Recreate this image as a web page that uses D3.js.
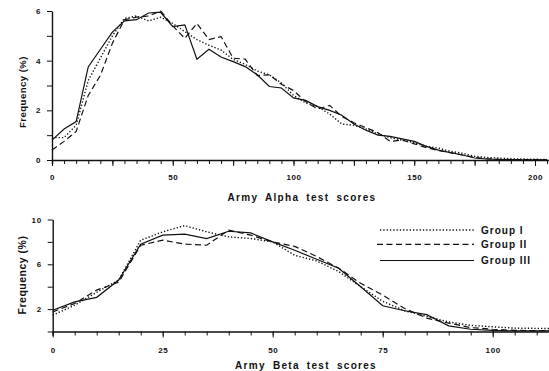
<!DOCTYPE html>
<html>
<head>
<meta charset="utf-8">
<script src="https://cdnjs.cloudflare.com/ajax/libs/d3/7.8.5/d3.min.js"></script>
<style>
  body { margin: 0; background: #fff; }
  svg text { font-family: "Liberation Sans", Arial, sans-serif; font-weight: bold; fill: #111; }
  .axis path, .axis line { stroke: #111; }
</style>
</head>
<body>
<div id="my_dataviz"></div>
<script>

// Army Alpha panel (top)
var alphaScores = [0, 5, 10, 15, 20, 25, 30, 35, 40, 45, 50, 55, 60, 65, 70, 75, 80, 85, 90, 95, 100,
  105, 110, 115, 120, 125, 130, 135, 140, 145, 150, 155, 160, 165, 170, 175, 180, 185, 190, 195, 200, 205];
var alphaGroup1 = [0.9, 0.9, 1.4, 3.2, 4.1, 5.0, 5.7, 5.8, 5.6, 5.75, 5.5, 5.17, 4.85, 4.62, 4.43, 4.05, 3.85, 3.58, 3.43, 3.1, 2.6,
  2.3, 2.15, 1.85, 1.45, 1.4, 1.25, 1.05, 0.9, 0.8, 0.7, 0.55, 0.48, 0.35, 0.27, 0.15, 0.1, 0.08, 0.05, 0.04, 0.03, 0.02];
var alphaGroup2 = [0.4, 0.75, 1.15, 2.6, 3.4, 4.7, 5.65, 5.75, 5.8, 6.0, 5.4, 4.9, 5.5, 4.85, 4.97, 4.1, 4.06, 3.4, 3.43, 3.05, 2.8,
  2.35, 2.05, 2.2, 1.75, 1.5, 1.3, 1.1, 0.75, 0.8, 0.65, 0.5, 0.38, 0.3, 0.2, 0.1, 0.05, 0.03, 0.02, 0.02, 0.01, 0.01];
var alphaGroup3 = [0.8, 1.25, 1.55, 3.75, 4.45, 5.15, 5.6, 5.65, 5.92, 5.95, 5.37, 5.44, 4.06, 4.46, 4.15, 3.96, 3.76, 3.43, 2.96, 2.9, 2.5,
  2.4, 2.15, 2.0, 1.8, 1.45, 1.2, 1.0, 0.95, 0.85, 0.75, 0.55, 0.4, 0.3, 0.2, 0.08, 0.04, 0.02, 0.02, 0.01, 0.01, 0.01];
var alphaTickLabels = [0, 50, 100, 150, 200];
var alphaFreqLabels = [0, 2, 4, 6];

// Army Beta panel (bottom)
var betaScores = [0, 5, 10, 15, 20, 25, 30, 35, 40, 45, 50, 55, 60, 65, 70, 75, 80, 85, 90, 95, 100, 105, 110, 113];
var betaGroup1 = [1.45, 2.35, 3.5, 4.6, 8.15, 8.9, 9.45, 8.9, 8.45, 8.3, 8.0, 6.8, 6.3, 5.35, 4.0, 2.7, 1.85, 1.35, 0.85, 0.55, 0.42, 0.3, 0.28, 0.27];
var betaGroup2 = [1.75, 2.5, 3.7, 4.4, 7.7, 8.15, 7.8, 7.7, 9.05, 8.6, 8.0, 7.6, 6.7, 5.65, 4.3, 3.25, 2.05, 1.2, 0.75, 0.35, 0.2, 0.1, 0.08, 0.08];
var betaGroup3 = [1.9, 2.65, 3.05, 4.6, 7.8, 8.6, 8.7, 8.3, 8.95, 8.8, 8.0, 7.25, 6.45, 5.65, 4.0, 2.3, 1.85, 1.5, 0.5, 0.2, 0.1, 0.05, 0.05, 0.05];
var betaTickLabels = [0, 25, 50, 75, 100];
var betaFreqLabels = [2, 6, 10];

var groupNames = ["Group I", "Group II", "Group III"];

var width = 549, height = 371;

var svg = d3.select("#my_dataviz")
  .append("svg")
  .attr("width", width)
  .attr("height", height);

// line styles per group: dotted, dashed, solid
var dashes = ["1.3,2", "6,3.5", null];
var strokeW = [1.4, 1.2, 1.2];

function drawPanel(opt) {
  var x = d3.scaleLinear().domain(opt.xDomain).range(opt.xRange);
  var y = d3.scaleLinear().domain(opt.yDomain).range(opt.yRange);
  var g = svg.append("g");

  // minor x ticks
  g.append("g")
    .attr("class", "axis")
    .attr("transform", "translate(0," + opt.yRange[0] + ")")
    .call(d3.axisBottom(x).tickValues(d3.range(opt.xDomain[0], opt.xDomain[1], 5)).tickSize(4).tickFormat(""))
    .call(function (a) { a.select(".domain").attr("stroke-width", 1.6); });

  // major x ticks
  g.append("g")
    .attr("class", "axis")
    .attr("transform", "translate(0," + opt.yRange[0] + ")")
    .call(d3.axisBottom(x).tickValues(d3.range(0, opt.xDomain[1], 25)).tickSize(6).tickFormat(""))
    .call(function (a) { a.select(".domain").remove(); });

  // x labels
  g.append("g")
    .attr("transform", "translate(0," + opt.yRange[0] + ")")
    .call(d3.axisBottom(x).tickValues(opt.xLabels).tickSize(0).tickPadding(opt.xPad).tickFormat(d3.format("d")))
    .call(function (a) {
      a.select(".domain").remove();
      a.selectAll("text").style("font-size", opt.tickFont + "px").style("letter-spacing", "0.6px");
    });

  // y axis ticks
  g.append("g")
    .attr("class", "axis")
    .attr("transform", "translate(" + opt.xRange[0] + ",0)")
    .call(d3.axisLeft(y).tickValues(d3.range(opt.yDomain[0], opt.yDomain[1] + 0.01, opt.yStep)).tickSize(5).tickSizeOuter(0).tickFormat(""))
    .call(function (a) { a.select(".domain").attr("stroke-width", 1.4); });

  g.append("g")
    .attr("transform", "translate(" + opt.xRange[0] + ",0)")
    .call(d3.axisLeft(y).tickValues(opt.yLabels).tickSize(0).tickPadding(11).tickFormat(d3.format("d")))
    .call(function (a) {
      a.select(".domain").remove();
      a.selectAll("text").style("font-size", opt.tickFont + "px").style("letter-spacing", "0.6px");
    });

  // series
  opt.series.forEach(function (s, i) {
    var line = d3.line()
      .x(function (d, j) { return x(opt.scores[j]); })
      .y(function (d) { return y(d); });
    g.append("path")
      .datum(s)
      .attr("fill", "none")
      .attr("stroke", "#111")
      .attr("stroke-width", strokeW[i])
      .attr("stroke-dasharray", dashes[i])
      .attr("d", line);
  });

  // axis titles
  g.append("text")
    .attr("x", opt.titleX)
    .attr("y", opt.titleY)
    .attr("text-anchor", "middle")
    .style("font-size", "10px")
    .style("letter-spacing", "1.3px")
    .style("word-spacing", "3px")
    .text(opt.title);

  g.append("text")
    .attr("transform", "translate(" + 26 + "," + opt.yTitleY + ") rotate(-90)")
    .attr("text-anchor", "middle")
    .style("font-size", opt.yTitleFont + "px")
    .style("letter-spacing", "0.5px")
    .text("Frequency (%)");

  return { x: x, y: y };
}

drawPanel({
  xDomain: [0, 206], xRange: [52, 52 + 206 * 2.415],
  yDomain: [0, 6], yRange: [160, 11], yStep: 1,
  xLabels: alphaTickLabels, yLabels: alphaFreqLabels,
  scores: alphaScores, series: [alphaGroup1, alphaGroup2, alphaGroup3],
  xPad: 14, tickFont: 8,
  title: "Army Alpha test scores", titleX: 302, titleY: 200.5,
  yTitleY: 92, yTitleFont: 9.5
});

drawPanel({
  xDomain: [0, 113], xRange: [52.7, 52.7 + 113 * 4.4],
  yDomain: [0, 10], yRange: [331.5, 219.5], yStep: 2,
  xLabels: betaTickLabels, yLabels: betaFreqLabels,
  scores: betaScores, series: [betaGroup1, betaGroup2, betaGroup3],
  xPad: 16, tickFont: 8,
  title: "Army Beta test scores", titleX: 306, titleY: 369,
  yTitleY: 275, yTitleFont: 10.5
});

// legend
var legY = [230, 244.3, 260.5];
var legend = svg.append("g");
groupNames.forEach(function (name, i) {
  legend.append("line")
    .attr("x1", i == 1 ? 377 : 380).attr("x2", 474)
    .attr("y1", legY[i]).attr("y2", legY[i])
    .attr("stroke", "#111")
    .attr("stroke-width", strokeW[i])
    .attr("stroke-dasharray", dashes[i]);
  legend.append("text")
    .attr("x", 481)
    .attr("y", legY[i] + 3.5)
    .style("font-size", "10px")
    .style("letter-spacing", "1px")
    .text(name);
});

</script>
</body>
</html>
